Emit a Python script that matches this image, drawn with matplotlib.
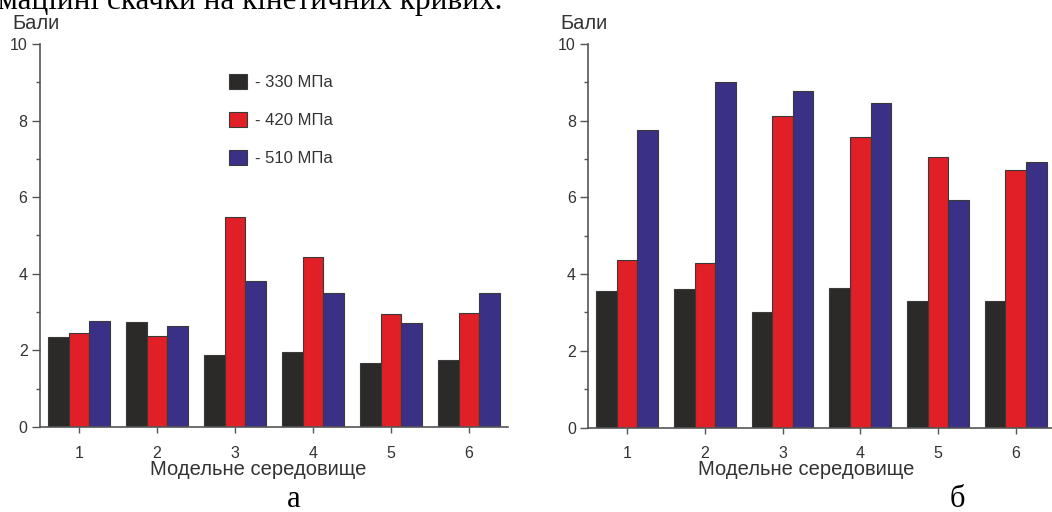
import matplotlib
matplotlib.use("Agg")
from matplotlib import pyplot as plt
from matplotlib.ticker import MultipleLocator
from matplotlib.patches import Patch
import numpy as np

# Categories (model media) and scores
media = [1, 2, 3, 4, 5, 6]
series_names = ["- 330 МПа", "- 420 МПа", "- 510 МПа"]

# panel a
a_330 = [2.35, 2.73, 1.89, 1.95, 1.68, 1.76]
a_420 = [2.46, 2.37, 5.49, 4.43, 2.94, 2.98]
a_510 = [2.78, 2.65, 3.81, 3.50, 2.72, 3.50]

# panel б
b_330 = [3.56, 3.60, 3.02, 3.64, 3.30, 3.30]
b_420 = [4.38, 4.29, 8.12, 7.58, 7.05, 6.72]
b_510 = [7.76, 9.02, 8.78, 8.47, 5.93, 6.92]

colors = ["#2b2a28", "#e01f26", "#3a3085"]
edge = "#3a3a3a"
axis_col = "#555555"
text_col = "#333333"

plt.rcParams['font.family'] = ['Liberation Sans', 'DejaVu Sans']
fig = plt.figure(figsize=(10.52, 5.12), dpi=100)

W, H = 1052.0, 512.0
axa = fig.add_axes([40 / W, 1 - 427 / H, 468 / W, 383 / H])
axb = fig.add_axes([588.3 / W, 1 - 427.5 / H, 466.3 / W, 383.5 / H])

width = 0.265
x = np.array(media)


def draw_panel(ax, groups):
    for i, vals in enumerate(groups):
        ax.bar(x + (i - 1) * width, vals, width, color=colors[i],
               edgecolor=edge, linewidth=0.8, zorder=2)
    ax.set_xlim(0.5, 6.5)
    ax.set_ylim(0, 10)
    ax.spines['top'].set_visible(False)
    ax.spines['right'].set_visible(False)
    for s in ('left', 'bottom'):
        ax.spines[s].set_color(axis_col)
        ax.spines[s].set_linewidth(1.2)
    ax.spines['left'].set_zorder(3)
    ax.set_xticks(media)
    ax.yaxis.set_major_locator(MultipleLocator(2))
    ax.yaxis.set_minor_locator(MultipleLocator(1))
    ax.tick_params(axis='y', which='major', direction='out', length=6,
                   width=1.0, color=axis_col, labelsize=11.5, labelcolor=text_col, pad=3)
    ax.tick_params(axis='y', which='minor', direction='out', length=3,
                   width=1.0, color=axis_col)
    ax.tick_params(axis='x', which='major', direction='out', length=4.5,
                   width=1.0, color=axis_col, labelsize=11.5, labelcolor=text_col, pad=9)
    ax.set_xlabel("Модельне середовище", fontsize=14.5, color=text_col)
    ax.xaxis.set_label_coords(0.467, -0.086)


draw_panel(axa, [a_330, a_420, a_510])
draw_panel(axb, [b_330, b_420, b_510])

# legend in panel a
handles = [Patch(facecolor=c, edgecolor=edge, linewidth=0.8) for c in colors]
axa.legend(handles, series_names, loc='upper left', bbox_to_anchor=(0.404, 0.922),
           frameon=False, fontsize=12, handlelength=1.05, handleheight=1.05,
           handletextpad=0.5, labelspacing=1.3, borderpad=0, borderaxespad=0,
           labelcolor=text_col)

# y axis titles
fig.text(12 / W, 1 - 29 / H, "Бали", fontsize=14.5, color=text_col, va='baseline')
fig.text(560 / W, 1 - 29 / H, "Бали", fontsize=14.5, color=text_col, va='baseline')

# panel letters
fig.text(294 / W, 1 - 507 / H, "а", fontsize=22, family='Liberation Serif',
         ha='center', va='baseline')
fig.text(957 / W, 1 - 507 / H, "б", fontsize=22, family='Liberation Serif',
         ha='center', va='baseline')

# clipped line of document text at the top
fig.text(-2 / W, 1 - 9 / H, "маційні скачки на кінетичних кривих.", fontsize=22.5,
         family='Liberation Serif', va='baseline')

fig.savefig("out.png", dpi=100)
